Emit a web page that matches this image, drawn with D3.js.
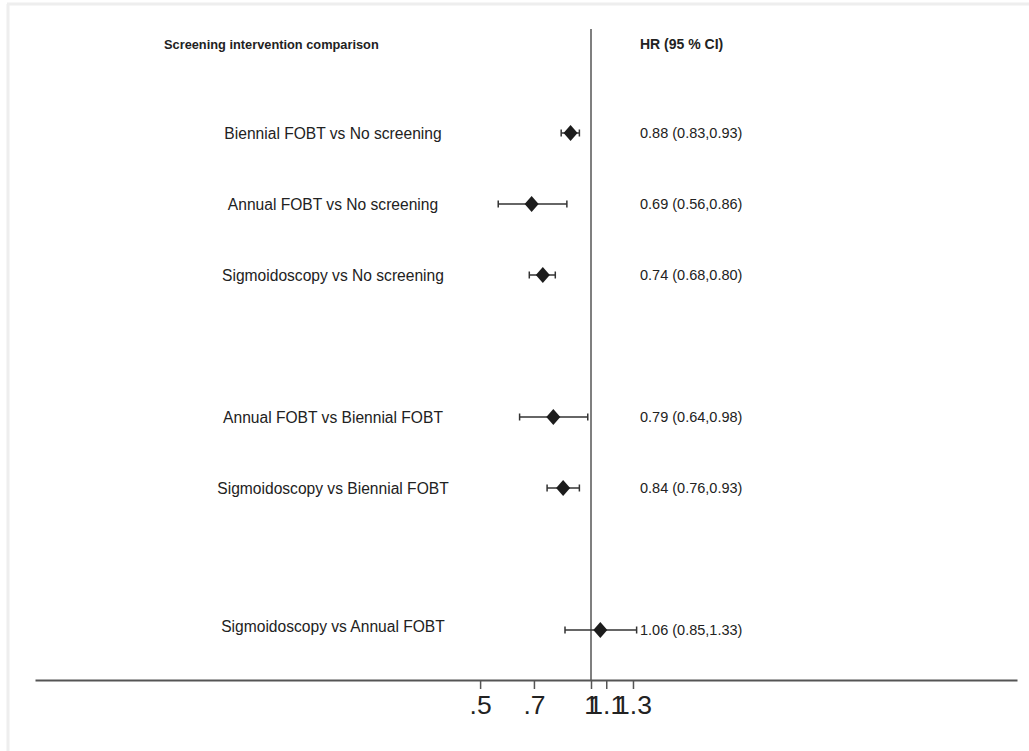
<!DOCTYPE html>
<html>
<head>
<meta charset="utf-8">
<script src="https://cdn.jsdelivr.net/npm/d3@7"></script>
<style>
  body { margin: 0; background: #fff; }
  text { font-family: "Liberation Sans", Arial, Helvetica, sans-serif; fill: #222; }
</style>
</head>
<body>
<div id="chart"></div>
<script>
// forest plot data
var labels = [
  "Biennial FOBT vs No screening",
  "Annual FOBT vs No screening",
  "Sigmoidoscopy vs No screening",
  "Annual FOBT vs Biennial FOBT",
  "Sigmoidoscopy vs Biennial FOBT",
  "Sigmoidoscopy vs Annual FOBT"
];
var rowIndex = [0, 1, 2, 4, 5, 7];   // blank rows between groups
var hr = [0.88, 0.69, 0.74, 0.79, 0.84, 1.06];
var lower = [0.83, 0.56, 0.68, 0.64, 0.76, 0.85];
var upper = [0.93, 0.86, 0.80, 0.98, 0.93, 1.33];
var tickValues = [0.5, 0.7, 1, 1.1, 1.3];

var width = 1029, height = 751;

var svg = d3.select("#chart").append("svg")
    .attr("width", width)
    .attr("height", height);

// light frame at top / left
svg.append("line")
    .attr("x1", 7).attr("x2", width).attr("y1", 4).attr("y2", 4)
    .style("stroke", "#eeeeee").style("stroke-width", "3px");
svg.append("line")
    .attr("x1", 8).attr("x2", 8).attr("y1", 4).attr("y2", height)
    .style("stroke", "#eeeeee").style("stroke-width", "3px");

// log scale, 1 sits at x=591
var x = d3.scaleLog()
    .domain([Math.exp(-3.475), Math.exp(2.6625)])
    .range([35, 1017]);

var y = d3.scaleLinear()
    .domain([0, 7])
    .range([133, 630]);

// reference line at HR = 1
svg.append("line")
    .attr("x1", x(1)).attr("x2", x(1))
    .attr("y1", 29).attr("y2", 680)
    .style("stroke", "#555")
    .style("stroke-width", "1.5px");

// axis
var axis = svg.append("g")
    .attr("transform", "translate(0,680)")
    .call(d3.axisBottom(x)
        .tickValues(tickValues)
        .tickSizeOuter(0)
        .tickSizeInner(9)
        .tickPadding(6)
        .tickFormat(function(d) { return String(d).replace(/^0/, ""); }));

axis.select(".domain").style("stroke", "#555").style("stroke-width", "2px");
axis.selectAll(".tick line").style("stroke", "#555").style("stroke-width", "1.5px");
axis.selectAll(".tick text")
    .style("font-size", "26.5px")
    .style("font-family", "'Liberation Sans', Arial, sans-serif")
    .style("fill", "#222");

// headers
svg.append("text")
    .attr("x", 164)
    .attr("y", 49)
    .text("Screening intervention comparison")
    .style("font-size", "12.8px")
    .style("font-weight", "bold");

svg.append("text")
    .attr("x", 640)
    .attr("y", 49)
    .text("HR (95 % CI)")
    .style("font-size", "14px")
    .style("font-weight", "bold");

var rows = labels.map(function(l, i) {
    return { label: l, idx: rowIndex[i], hr: hr[i], lo: lower[i], hi: upper[i] };
});

var g = svg.selectAll(".row").data(rows).enter().append("g").attr("class", "row");

// row labels
g.append("text")
    .attr("x", 333)
    .attr("y", function(d, i) { return y(d.idx) + (i === rows.length - 1 ? 2 : 6); })
    .attr("text-anchor", "middle")
    .text(function(d) { return d.label; })
    .style("font-size", "15.6px");

// CI whiskers
g.append("line")
    .attr("x1", function(d) { return x(d.lo); })
    .attr("x2", function(d) { return x(d.hi); })
    .attr("y1", function(d) { return y(d.idx); })
    .attr("y2", function(d) { return y(d.idx); })
    .style("stroke", "#333")
    .style("stroke-width", "1.5px");

["lo", "hi"].forEach(function(k) {
    g.append("line")
        .attr("x1", function(d) { return x(d[k]); })
        .attr("x2", function(d) { return x(d[k]); })
        .attr("y1", function(d) { return y(d.idx) - 3.5; })
        .attr("y2", function(d) { return y(d.idx) + 3.5; })
        .style("stroke", "#333")
        .style("stroke-width", "1.5px");
});

// diamonds
g.append("path")
    .attr("d", function(d) {
        var cx = x(d.hr), cy = y(d.idx);
        return "M" + (cx - 7) + "," + cy + "L" + cx + "," + (cy - 8) +
               "L" + (cx + 7) + "," + cy + "L" + cx + "," + (cy + 8) + "Z";
    })
    .style("fill", "#1c1c1c");

// HR (95% CI) text
g.append("text")
    .attr("x", 640)
    .attr("y", function(d) { return y(d.idx) + 5; })
    .text(function(d) {
        return d.hr.toFixed(2) + " (" + d.lo.toFixed(2) + "," + d.hi.toFixed(2) + ")";
    })
    .style("font-size", "14.5px");
</script>
</body>
</html>
